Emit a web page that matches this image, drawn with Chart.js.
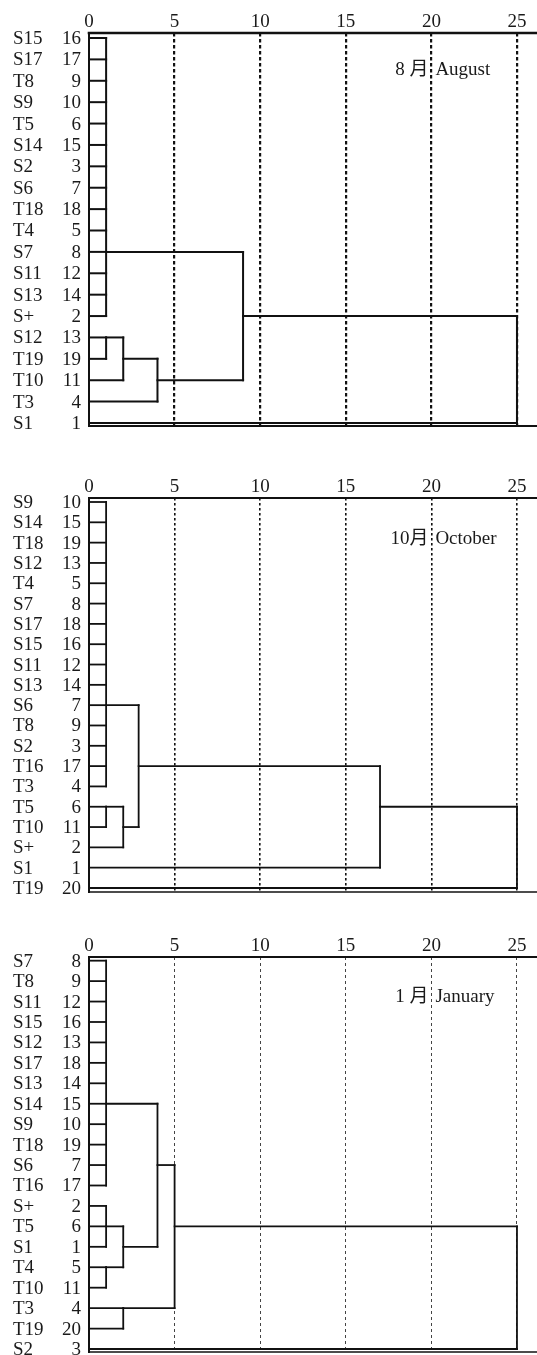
<!DOCTYPE html>
<html><head><meta charset="utf-8">
<script src="https://cdn.jsdelivr.net/npm/chart.js@4.4.1/dist/chart.umd.min.js"></script>
<style>
html,body{margin:0;padding:0;background:#fff}
body{width:537px;height:1355px;position:relative;overflow:hidden}
canvas{position:absolute;left:0}
</style></head><body>
<canvas id="c1" width="537" height="440" style="top:0px"></canvas>
<canvas id="c2" width="537" height="440" style="top:465px"></canvas>
<canvas id="c3" width="537" height="431" style="top:924px"></canvas>
<script>
// rescaled distance axis ticks
const xTicks = [0, 5, 10, 15, 20, 25];

// ---- August ----
const augNames = ['S15','S17','T8','S9','T5','S14','S2','S6','T18','T4','S7','S11','S13','S+','S12','T19','T10','T3','S1'];
const augCases = [16,17,9,10,6,15,3,7,18,5,8,12,14,2,13,19,11,4,1];
const augJoinRows = [[0,1,2,3,4,5,6,7,8,9,10,11,12,13],[14,15],[14,16],[15,17],[10,16],[13,18]];
const augJoinDist = [1,1,2,4,9,25];
const augJoinRep  = [10,14,15,16,13,null];

// ---- October ----
const octNames = ['S9','S14','T18','S12','T4','S7','S17','S15','S11','S13','S6','T8','S2','T16','T3','T5','T10','S+','S1','T19'];
const octCases = [10,15,19,13,5,8,18,16,12,14,7,9,3,17,4,6,11,2,1,20];
const octJoinRows = [[0,1,2,3,4,5,6,7,8,9,10,11,12,13,14],[15,16],[15,17],[10,16],[13,18],[15,19]];
const octJoinDist = [1,1,2,2.9,17,25];
const octJoinRep  = [10,15,16,13,15,null];

// ---- January ----
const janNames = ['S7','T8','S11','S15','S12','S17','S13','S14','S9','T18','S6','T16','S+','T5','S1','T4','T10','T3','T19','S2'];
const janCases = [8,9,12,16,13,18,14,15,10,19,7,17,2,6,1,5,11,4,20,3];
const janJoinRows = [[0,1,2,3,4,5,6,7,8,9,10,11],[12,13,14],[15,16],[13,15],[7,14],[17,18],[10,17],[13,19]];
const janJoinDist = [1,1,1,2,4,2,5,25];
const janJoinRep  = [7,13,15,14,10,17,13,null];

function buildSegments(n, joinRows, joinDist, joinRep) {
  const cur = new Array(n).fill(0);
  const segs = [];
  joinRows.forEach((rs, k) => {
    const d = joinDist[k];
    rs.forEach(r => { if (d > cur[r]) segs.push([{x: cur[r], y: r}, {x: d, y: r}]); });
    segs.push([{x: d, y: Math.min(...rs)}, {x: d, y: Math.max(...rs)}]);
    if (joinRep[k] != null) cur[joinRep[k]] = d;
  });
  return segs;
}

const FONT = '"Liberation Serif", "Times New Roman", "Noto Sans CJK SC", serif';

const panels = [
  {id:'c1', names:augNames, cases:augCases, rows:augJoinRows, dist:augJoinDist, rep:augJoinRep,
   month:'8 月', en:'August', yMin:-0.234, yMax:18.14, padBottom:14, lw:2,
   gw:2.2, gdash:[3.5,2.5], gcolor:'#111', topW:2.6, leftW:2, botW:1.8, annoRow:1.5},
  {id:'c2', names:octNames, cases:octCases, rows:octJoinRows, dist:octJoinDist, rep:octJoinRep,
   month:'10月', en:'October', yMin:-0.197, yMax:19.197, padBottom:13, lw:1.8,
   gw:1.6, gdash:[2.5,2.5], gcolor:'#111', topW:2, leftW:2, botW:1.6, annoRow:1.82},
  {id:'c3', names:janNames, cases:janCases, rows:janJoinRows, dist:janJoinDist, rep:janJoinRep,
   month:'1 月', en:'January', yMin:-0.18, yMax:19.147, padBottom:3, lw:1.8,
   gw:1, gdash:[3,3], gcolor:'#444', topW:2, leftW:2, botW:1.6, annoRow:1.78}
];

panels.forEach(p => {
  const segs = buildSegments(p.names.length, p.rows, p.dist, p.rep);
  const decor = {
    id: 'decor_' + p.id,
    afterDraw(chart) {
      const {ctx, chartArea: a, scales: {x, y}} = chart;
      ctx.save();
      ctx.strokeStyle = '#111';
      ctx.lineCap = 'square';
      const line = (x1, y1, x2, y2, w) => { ctx.lineWidth = w; ctx.beginPath(); ctx.moveTo(x1, y1); ctx.lineTo(x2, y2); ctx.stroke(); };
      line(a.left, a.top, a.right + 2, a.top, p.topW);
      line(a.left, a.top, a.left, a.bottom, p.leftW);
      line(a.left, a.bottom, a.right + 2, a.bottom, p.botW);
      ctx.fillStyle = '#1a1a1a';
      ctx.font = '19px ' + FONT;
      ctx.textBaseline = 'middle';
      p.names.forEach((nm, i) => {
        const py = y.getPixelForValue(i) + 1;
        ctx.textAlign = 'left';
        ctx.fillText(nm, 13, py);
        ctx.textAlign = 'right';
        ctx.fillText(String(p.cases[i]), 81, py);
      });
      const gx = x.getPixelForValue(20), ay = y.getPixelForValue(p.annoRow);
      ctx.font = '19px ' + FONT;
      ctx.textAlign = 'right';
      ctx.fillText(p.month, gx - 3, ay);
      ctx.textAlign = 'left';
      ctx.fillText(p.en, gx + 4, ay);
      ctx.restore();
    }
  };
  new Chart(document.getElementById(p.id), {
    type: 'scatter',
    data: {
      datasets: segs.map(s => ({
        data: s, showLine: true, borderColor: '#111', borderWidth: p.lw,
        pointRadius: 0, borderCapStyle: 'square', clip: false, tension: 0
      }))
    },
    options: {
      responsive: false, animation: false, devicePixelRatio: 1, events: [],
      layout: {padding: {left: 89, right: 0, top: 0, bottom: p.padBottom}},
      plugins: {legend: {display: false}, tooltip: {enabled: false}},
      scales: {
        x: {
          type: 'linear', position: 'top', min: 0, max: 26.17,
          afterBuildTicks: s => { s.ticks = xTicks.map(v => ({value: v})); },
          afterFit: s => { s.height = 33; },
          ticks: {font: {family: FONT, size: 19}, color: '#1a1a1a', padding: 0, maxRotation: 0, autoSkip: false},
          grid: {drawTicks: false, lineWidth: p.gw,
                 color: c => (c.tick && c.tick.value === 0) ? 'rgba(0,0,0,0)' : p.gcolor},
          border: {display: false, dash: p.gdash}
        },
        y: {type: 'linear', display: false, reverse: true, min: p.yMin, max: p.yMax}
      }
    },
    plugins: [decor]
  });
});
</script>
</body></html>
